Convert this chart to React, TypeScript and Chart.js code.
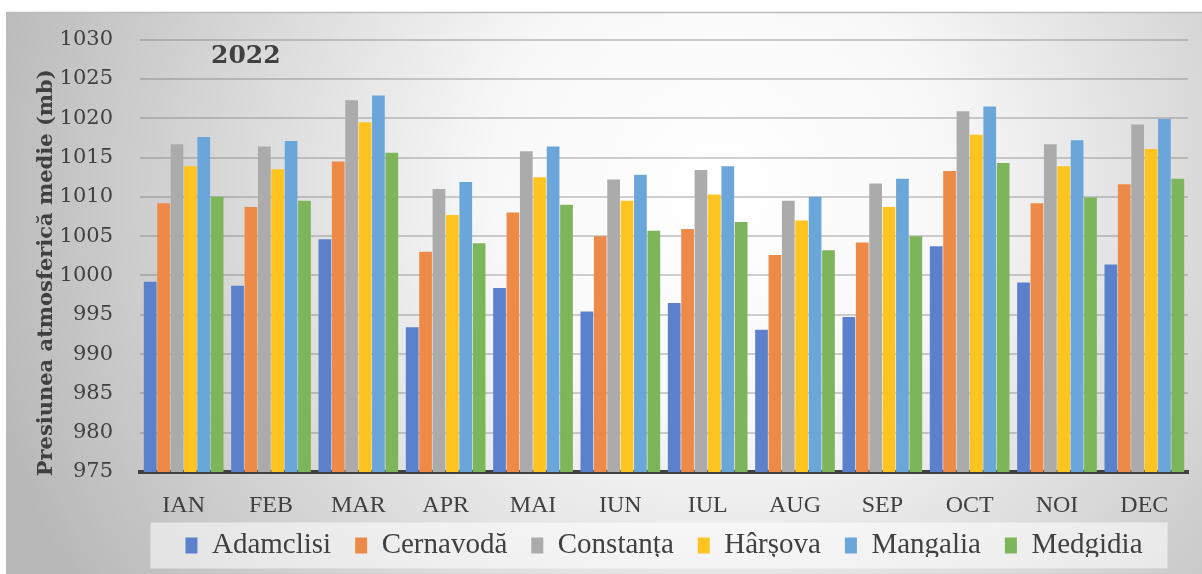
import React, { useEffect, useRef } from "react";
import { Chart, registerables } from "chart.js";

Chart.register(...registerables);

const months = ["IAN", "FEB", "MAR", "APR", "MAI", "IUN", "IUL", "AUG", "SEP", "OCT", "NOI", "DEC"];
const adamclisi = [999.2, 998.7, 1004.6, 993.4, 998.4, 995.4, 996.5, 993.1, 994.7, 1003.7, 999.1, 1001.4];
const cernavoda = [1009.2, 1008.7, 1014.5, 1003.0, 1008.0, 1005.0, 1005.9, 1002.6, 1004.2, 1013.3, 1009.2, 1011.6];
const constanta = [1016.7, 1016.4, 1022.3, 1011.0, 1015.8, 1012.2, 1013.4, 1009.5, 1011.7, 1020.9, 1016.7, 1019.2];
const harsova = [1013.9, 1013.5, 1019.5, 1007.7, 1012.5, 1009.5, 1010.3, 1007.0, 1008.7, 1017.9, 1013.9, 1016.1];
const mangalia = [1017.6, 1017.1, 1022.9, 1011.9, 1016.4, 1012.8, 1013.9, 1010.0, 1012.3, 1021.5, 1017.2, 1019.9];
const medgidia = [1010.0, 1009.5, 1015.6, 1004.1, 1009.0, 1005.7, 1006.8, 1003.2, 1005.0, 1014.3, 1009.9, 1012.3];

const seriesNames = ["Adamclisi", "Cernavodă", "Constanța", "Hârșova", "Mangalia", "Medgidia"];
const seriesColors = ["#5B80CC", "#EE8A48", "#ABABAB", "#FFC41F", "#6BA6DA", "#7DB55A"];
const yearLabel = "2022";
const yTitle = "Presiunea atmosferică medie (mb)";

const bgPlugin = {
  id: "bgPlugin",
  afterLayout(chart: any) {
    // let the x tick labels extend below the (compact) x-axis box without clipping
    const xs = chart.scales.x;
    if (xs) xs.bottom = chart.height;
  },
  beforeDraw(chart: any) {
    const { ctx, width, height } = chart;
    ctx.save();
    ctx.fillStyle = "#ffffff";
    ctx.fillRect(0, 0, width, height);
    const g = ctx.createRadialGradient(720, 190, 0, 720, 190, 760);
    g.addColorStop(0, "#ffffff");
    g.addColorStop(0.3, "#f8f8f8");
    g.addColorStop(1, "#b8b8b8");
    ctx.fillStyle = g;
    ctx.fillRect(6, 12, width - 6, height - 12);
    ctx.strokeStyle = "#bdbdbd";
    ctx.lineWidth = 1.5;
    ctx.beginPath();
    ctx.moveTo(6, 12.5);
    ctx.lineTo(width, 12.5);
    ctx.stroke();
    const lg = chart.legend;
    if (lg && lg.legendHitBoxes && lg.legendHitBoxes.length) {
      const hb = lg.legendHitBoxes;
      const l = hb[0].left - 35;
      const r = hb[hb.length - 1].left + hb[hb.length - 1].width + 25;
      const cy = hb[0].top + hb[0].height / 2;
      ctx.fillStyle = "rgba(255,255,255,0.55)";
      ctx.fillRect(l, cy - 23, r - l, 46);
    }
    ctx.restore();
  },
  afterDraw(chart: any) {
    const { ctx, chartArea } = chart;
    ctx.save();
    ctx.font = "bold 25px 'DejaVu Serif'";
    ctx.fillStyle = "#404040";
    ctx.textAlign = "left";
    ctx.textBaseline = "alphabetic";
    ctx.fillText(yearLabel, 211, 63);
    // y axis title
    ctx.translate(47, (chartArea.top + chartArea.bottom) / 2 + 17);
    ctx.rotate(-Math.PI / 2);
    ctx.font = "bold 21px 'DejaVu Serif'";
    ctx.textAlign = "center";
    ctx.textBaseline = "middle";
    ctx.fillText(yTitle, 0, 0);
    ctx.restore();
  },
};

export default function App() {
  const ref = useRef<HTMLCanvasElement | null>(null);
  useEffect(() => {
    if (!ref.current) return;
    const values = [adamclisi, cernavoda, constanta, harsova, mangalia, medgidia];
    const chart = new Chart(ref.current, {
      type: "bar",
      data: {
        labels: months,
        datasets: seriesNames.map((n, i) => ({
          label: n,
          data: values[i],
          backgroundColor: seriesColors[i],
          borderWidth: 0,
          categoryPercentage: 0.92,
          barPercentage: 0.95,
        })),
      },
      options: {
        responsive: false,
        animation: false,
        devicePixelRatio: 1,
        layout: { padding: { left: 20, top: 39, right: 14, bottom: 17 } },
        plugins: {
          tooltip: { enabled: false },
          legend: {
            position: "bottom",
            fullSize: false,
            maxHeight: 50,
            labels: {
              boxWidth: 12,
              boxHeight: 16,
              padding: 24,
              color: "#404040",
              font: { family: "'Liberation Serif'", size: 29 },
            },
          },
        },
        scales: {
          x: {
            z: 1,
            afterFit: (s: any) => {
              s.height = 35;
            },
            grid: { display: false, drawTicks: false },
            border: { display: true, color: "#404040", width: 4 },
            ticks: {
              color: "#404040",
              padding: 19,
              font: { family: "'Liberation Serif'", size: 24 },
            },
          },
          y: {
            z: 1,
            min: 975,
            max: 1030,
            afterFit: (s: any) => {
              s.width = 120;
            },
            grid: { color: "rgba(110,110,110,0.32)", lineWidth: 2, drawTicks: false },
            border: { display: false },
            ticks: {
              stepSize: 5,
              padding: 27,
              color: "#404040",
              font: { family: "'DejaVu Serif'", size: 21 },
              callback: (v: any) => String(v),
            },
            title: { display: false, text: yTitle },
          },
        },
      },
      plugins: [bgPlugin],
    });
    return () => chart.destroy();
  }, []);
  return (
    <div style={{ position: "fixed", left: 0, top: 0, width: 1202, height: 574 }}>
      <canvas ref={ref} width={1202} height={574} style={{ display: "block" }} />
    </div>
  );
}
